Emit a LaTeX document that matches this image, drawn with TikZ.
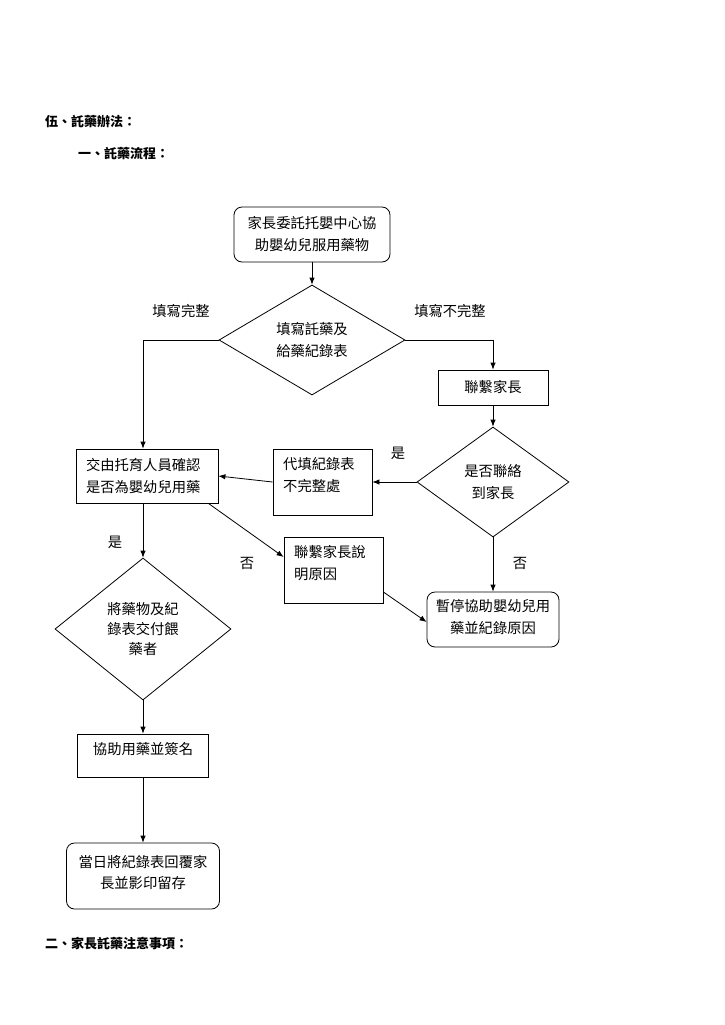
\documentclass[tikz,border=0pt]{standalone}
\usepackage{fontspec}
\setmainfont{Noto Sans CJK TC}
\usetikzlibrary{shapes.geometric,arrows.meta}
\begin{document}
\begin{tikzpicture}[x=1pt,y=-1pt,
  every node/.style={font=\fontsize{14.3}{22}\selectfont, inner sep=0pt},
  sbox/.style={draw, line width=0.8pt},
  rbox/.style={draw, line width=0.8pt, rounded corners=8pt, align=center},
  dia/.style={draw, diamond, line width=0.8pt, align=center, inner sep=0pt},
  arr/.style={-{Latex[length=7pt,width=5.5pt]}, line width=0.8pt},
  lt/.style={align=left, anchor=west},
  head/.style={anchor=west, font=\fontsize{13}{13}\selectfont\bfseries}
]
\useasboundingbox (0,0) rectangle (724,1025);

% headings
\node[head] (h1) at (45,122) {伍、託藥辦法：};
\node[head] (h2) at (78,154) {一、託藥流程：};
\node[head] (h3) at (45,943) {二、家長託藥注意事項：};

% nodes
\node[rbox, minimum width=156pt, minimum height=55pt] (n1) at (312,234.5) {家長委託托嬰中心協\\助嬰幼兒服用藥物};
\node[dia, minimum width=186pt, minimum height=110pt] (d1) at (312,340) {填寫託藥及\\給藥紀錄表};
\node[sbox, minimum width=110pt, minimum height=35pt] (n2) at (493,387.5) {聯繫家長};
\node[dia, minimum width=152pt, minimum height=110pt] (d2) at (493,482) {是否聯絡\\到家長};
\node[sbox, minimum width=99pt, minimum height=66pt] (n3) at (322.5,482) {};
\node[lt] (t3) at (283,475) {代填紀錄表\\不完整處};
\node[sbox, minimum width=142pt, minimum height=54pt, align=left, text width=122pt, inner xsep=10pt] (n4) at (147,476) {交由托育人員確認\\是否為嬰幼兒用藥};
\node[sbox, minimum width=99pt, minimum height=66pt] (n5) at (333.5,570) {};
\node[lt] (t5) at (294,563) {聯繫家長說\\明原因};
\node[rbox, minimum width=132pt, minimum height=55pt] (n6) at (493,619.5) {};
\node (t6) at (493,617.5) [align=center] {暫停協助嬰幼兒用\\藥並紀錄原因};
\node[dia, minimum width=176pt, minimum height=142pt, font=\fontsize{14.3}{20}\selectfont] (d3) at (143,629) {將藥物及紀\\錄表交付餵\\藥者};
\node[sbox, minimum width=131pt, minimum height=43pt] (n7) at (143,755.5) {};
\node (t7) at (143,749) {協助用藥並簽名};
\node[rbox, minimum width=153pt, minimum height=66pt] (n8) at (143,876) {};
\node (t8) at (143,872.5) [align=center, font=\fontsize{14.3}{21}\selectfont] {當日將紀錄表回覆家\\長並影印留存};

% labels
\node (l1) at (181,311) {填寫完整};
\node (l2) at (450,311) {填寫不完整};
\node (l3) at (398,453) {是};
\node (l4) at (115,542) {是};
\node (l5) at (247,563) {否};
\node (l6) at (520,563) {否};

% connectors
\draw[arr] (n1.south) -- (d1.north);
\draw[arr] (d1.west) -| ([xshift=-4pt]n4.north);
\draw[arr] (d1.east) -| (n2.north);
\draw[arr] (n2.south) -- (d2.north);
\draw[arr] (d2.west) -- (n3.east);
\draw[arr] (n3.west) -- (n4.east);
\draw[arr] ([xshift=-4pt]n4.south) -- (d3.north);
\draw[arr] ([xshift=-10pt]n4.south east) -- ([yshift=13pt]n5.west);
\draw[arr] ([yshift=-22pt]n5.east) -- ([yshift=-2.5pt]n6.west);
\draw[arr] (d2.south) -- (n6.north);
\draw[arr] (d3.south) -- (n7.north);
\draw[arr] (n7.south) -- (n8.north);
\end{tikzpicture}
\end{document}
